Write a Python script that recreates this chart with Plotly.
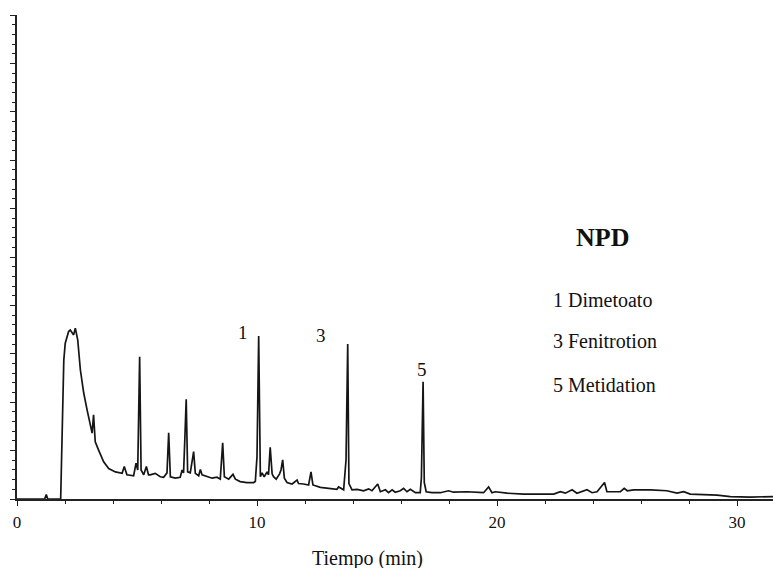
import plotly.graph_objects as go

# Retention time (min) and detector signal (arbitrary units, 0-100 full scale)
tiempo = [0, 1.15, 1.22, 1.28, 1.82, 1.89, 1.95, 2.01, 2.15, 2.22, 2.36, 2.43, 2.53, 2.64, 2.78,
          2.92, 3.05, 3.13, 3.19, 3.26, 3.40, 3.61, 3.82, 4.10, 4.38, 4.47, 4.58, 4.86, 4.96,
          5.03, 5.11, 5.17, 5.28, 5.39, 5.48, 5.55, 5.76, 5.97, 6.11, 6.25, 6.32, 6.39, 6.60,
          6.80, 6.88, 6.94, 6.99, 7.05, 7.11, 7.22, 7.36, 7.43, 7.57, 7.64, 7.71, 7.92, 8.13,
          8.33, 8.47, 8.57, 8.64, 8.82, 9.00, 9.10, 9.30, 9.58, 9.86, 9.93, 10.00, 10.07, 10.14,
          10.21, 10.30, 10.42, 10.48, 10.55, 10.63, 10.69, 10.80, 10.94, 11.00, 11.07, 11.14,
          11.25, 11.46, 11.67, 11.73, 11.94, 12.15, 12.25, 12.33, 12.64, 13.05, 13.33, 13.40,
          13.61, 13.71, 13.78, 13.83, 13.96, 14.17, 14.44, 14.65, 14.79, 15.03, 15.14, 15.35,
          15.48, 15.63, 15.76, 15.97, 16.11, 16.25, 16.39, 16.60, 16.80, 16.85, 16.92, 16.97,
          17.05, 17.29, 17.64, 17.98, 18.19, 18.75, 19.44, 19.65, 19.79, 19.93, 20.42, 21.11,
          21.94, 22.36, 22.64, 22.85, 23.13, 23.33, 23.75, 23.96, 24.17, 24.48, 24.58, 25.14,
          25.30, 25.43, 25.69, 26.39, 27.08, 27.50, 27.78, 28.05, 29.17, 29.72, 30.55, 31.25, 31.5]
senal = [0, 0, 0.9, 0, 0, 16.3, 28.7, 32.2, 34.6, 34.9, 33.9, 35.3, 32.9, 26.7, 21.9,
         18.4, 15.7, 13.6, 17.4, 11.8, 10.1, 7.7, 6.3, 5.6, 5.3, 6.7, 5.0, 4.8, 7.4,
         6.0, 29.4, 6.0, 5.0, 6.7, 5.0, 5.0, 5.3, 4.6, 4.5, 5.4, 13.7, 4.6, 4.3,
         4.5, 6.0, 5.4, 12.0, 20.6, 5.6, 5.4, 9.8, 5.3, 4.8, 6.1, 5.0, 4.6, 4.3,
         4.5, 4.1, 11.6, 4.6, 4.1, 5.1, 4.1, 3.6, 3.4, 3.4, 3.6, 8.7, 33.7, 4.6,
         5.4, 4.6, 5.6, 5.0, 10.7, 5.2, 4.6, 4.1, 5.2, 6.0, 8.1, 4.3,
         3.4, 3.1, 3.9, 3.2, 3.1, 2.9, 5.6, 2.9, 2.4, 2.2, 2.0, 2.5,
         1.9, 8.1, 32.0, 3.2, 1.9, 2.0, 1.7, 2.1, 1.7, 3.1, 1.5, 1.9,
         1.3, 1.9, 1.4, 1.7, 2.2, 1.5, 2.0, 1.3, 1.3, 4.3, 24.2, 3.4,
         1.5, 1.3, 1.3, 1.7, 1.4, 1.5, 1.3, 2.5, 1.3, 1.5, 1.2, 1.0,
         1.0, 1.0, 1.5, 1.2, 1.9, 1.2, 1.9, 1.3, 1.5, 3.4, 1.5, 1.5,
         2.2, 1.7, 1.9, 1.9, 1.7, 1.2, 1.5, 1.0, 0.8, 0.5, 0.4, 0.4, 0.5]

pico_etiquetas = ["1", "3", "5"]
pico_tiempos = [9.43, 12.68, 16.89]
pico_alturas = [34.3, 33.7, 26.7]

leyenda_titulo = "NPD"
leyenda_lineas = ["1 Dimetoato", "3 Fenitrotion", "5 Metidation"]
leyenda_y = [41.1, 32.6, 23.6]

x_ticks = [0, 10, 20, 30]
x_titulo = "Tiempo (min)"

FONT = "Liberation Serif, Times New Roman, serif"
INK = "#111111"

fig = go.Figure()
fig.add_trace(go.Scatter(x=tiempo, y=senal, mode="lines",
                         line=dict(color="#151515", width=1.7), hoverinfo="skip",
                         showlegend=False, cliponaxis=False))

for lab, t, h in zip(pico_etiquetas, pico_tiempos, pico_alturas):
    fig.add_annotation(x=t, y=h, text=lab, showarrow=False, xanchor="center", yanchor="middle",
                       font=dict(family=FONT, size=19, color=INK))

fig.add_annotation(x=24.39, y=54.1, text="<b>" + leyenda_titulo + "</b>", showarrow=False,
                   xanchor="center", yanchor="middle", font=dict(family=FONT, size=26, color=INK))
for txt, yy in zip(leyenda_lineas, leyenda_y):
    fig.add_annotation(x=22.25, y=yy, text=txt, showarrow=False, xanchor="left", yanchor="middle",
                       font=dict(family=FONT, size=20, color=INK))

fig.add_annotation(x=0.463, y=-0.122, xref="paper", yref="paper", text=x_titulo, showarrow=False,
                   xanchor="center", yanchor="middle", font=dict(family=FONT, size=20, color=INK))

fig.update_layout(
    width=773, height=568,
    margin=dict(l=17, r=0, t=15, b=69, autoexpand=False),
    paper_bgcolor="white", plot_bgcolor="white",
    xaxis=dict(range=[0, 31.5], tickvals=x_ticks, ticktext=[str(v) for v in x_ticks],
               automargin=False,
               showgrid=False, zeroline=False, showline=True, linecolor="#222", linewidth=1.5,
               ticks="outside", ticklen=5, tickwidth=1.2, tickcolor="#222",
               minor=dict(dtick=2, ticks="outside", ticklen=3, tickcolor="#222", showgrid=False),
               tickfont=dict(family=FONT, size=17, color=INK), ticklabelstandoff=2),
    yaxis=dict(range=[0, 100], dtick=10, showticklabels=False, showgrid=False, zeroline=False,
               automargin=False,
               showline=True, linecolor="#222", linewidth=1.5,
               ticks="outside", ticklen=5, tickwidth=1.2, tickcolor="#222",
               minor=dict(dtick=2, ticks="outside", ticklen=3, tickcolor="#222", showgrid=False)),
)

fig.write_html("out.html", config={"displayModeBar": False},
               post_script="document.body.style.margin='0';document.body.style.overflow='hidden';")
